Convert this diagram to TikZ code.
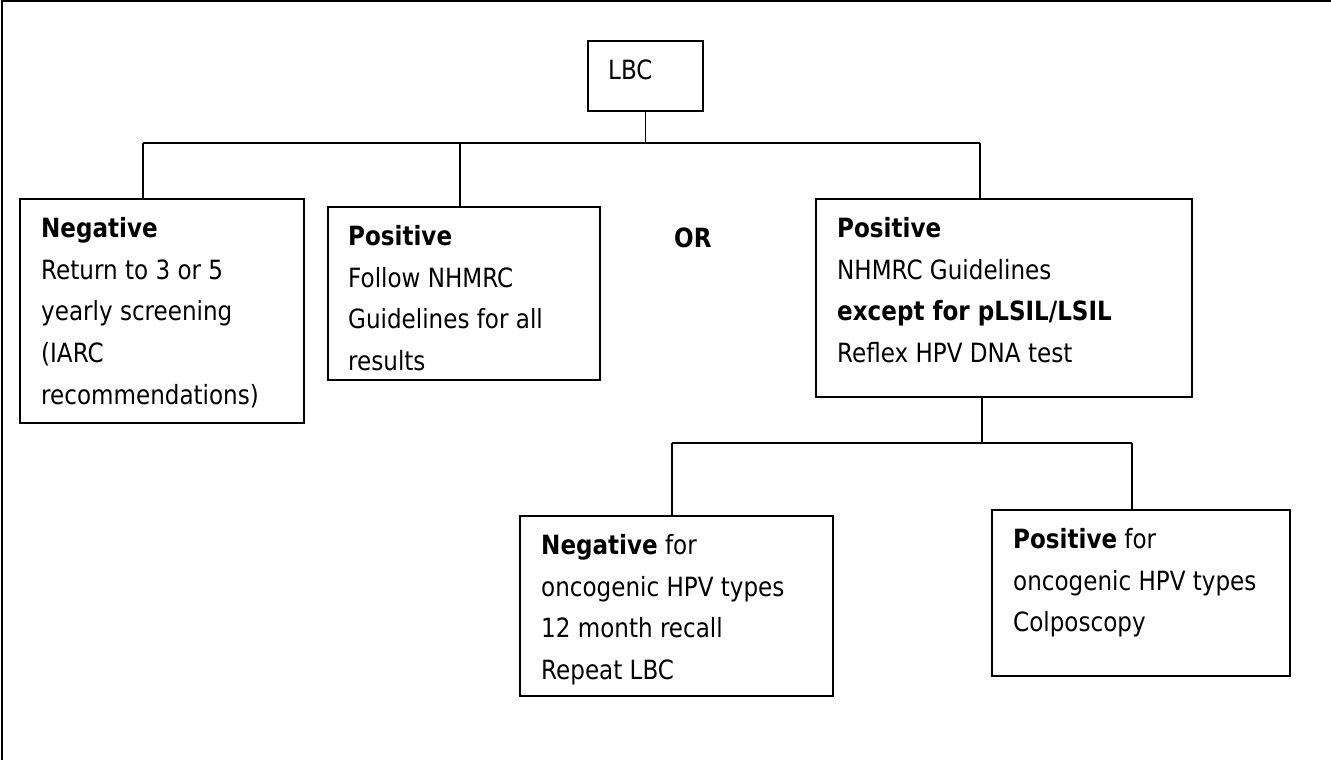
\documentclass[tikz,border=0pt]{standalone}
\usepackage{fontspec}
\setmainfont{DejaVu Sans}[FakeStretch=0.87]
\usetikzlibrary{fit}
\begin{document}
\begin{tikzpicture}[x=1pt,y=-1pt,
  box/.style={draw=black,line width=1.6pt,inner sep=0pt,fill=none},
  conn/.style={draw=black,line width=1.5pt},
  txt/.style={anchor=base west,inner sep=0pt,font=\fontsize{26.5}{32}\selectfont},
  frame/.style={draw=black,line width=2.2pt}]
\useasboundingbox (0,0) rectangle (1331,760);
\draw[frame] (1331,1.1) -- (1.6,1.1) -- (1.6,760);
% boxes
\node[box,fit={(588,41)(703,111)}] (lbc) {};
\node[box,fit={(20,199)(304,423)}] (neg) {};
\node[box,fit={(328,207)(600,380)}] (posA) {};
\node[box,fit={(816,199)(1192,397)}] (posB) {};
\node[box,fit={(520,516)(833,696)}] (hneg) {};
\node[box,fit={(992,510)(1290,676)}] (hpos) {};
% texts
\node[txt] (tlbc) at (608,80) {LBC};
\node[txt] (n1) at (41,237.5) {\textbf{Negative}};
\node[txt] (n2) at (41,279.2) {Return to 3 or 5};
\node[txt] (n3) at (41,320.9) {yearly screening};
\node[txt] (n4) at (41,362.6) {(IARC};
\node[txt] (n5) at (41,404.3) {recommendations)};
\node[txt] (p1) at (348,245.5) {\textbf{Positive}};
\node[txt] (p2) at (348,287.2) {Follow NHMRC};
\node[txt] (p3) at (348,328.9) {Guidelines for all};
\node[txt] (p4) at (348,370.6) {results};
\node[txt] (tor) at (674,247) {\textbf{OR}};
\node[txt] (q1) at (837,237.5) {\textbf{Positive}};
\node[txt] (q2) at (837,279.2) {NHMRC Guidelines};
\node[txt] (q3) at (837,320.9) {\textbf{except for pLSIL/LSIL}};
\node[txt] (q4) at (837,362.6) {Reflex HPV DNA test};
\node[txt] (r1) at (541,554.5) {\textbf{Negative} for};
\node[txt] (r2) at (541,596.2) {oncogenic HPV types};
\node[txt] (r3) at (541,637.9) {12 month recall};
\node[txt] (r4) at (541,679.6) {Repeat LBC};
\node[txt] (s1) at (1013,548.5) {\textbf{Positive} for};
\node[txt] (s2) at (1013,590.2) {oncogenic HPV types};
\node[txt] (s3) at (1013,631.9) {Colposcopy};
% connectors
\coordinate (hL) at (143,143);
\coordinate (hM) at (460,143);
\coordinate (hR) at (980,143);
\draw[conn] (hL) -- (hR);
\draw[conn] (lbc.south) -- (lbc.south |- hL);
\draw[conn] (hL) -- (hL |- neg.north);
\draw[conn] (hM) -- (hM |- posA.north);
\draw[conn] (hR) -- (hR |- posB.north);
\coordinate (d0) at (982,397);
\coordinate (dL) at (672,443);
\coordinate (dR) at (1132,443);
\draw[conn] (d0) -- (d0 |- dL);
\draw[conn] (dL) -- (dR);
\draw[conn] (dL) -- (dL |- hneg.north);
\draw[conn] (dR) -- (dR |- hpos.north);
\end{tikzpicture}
\end{document}
